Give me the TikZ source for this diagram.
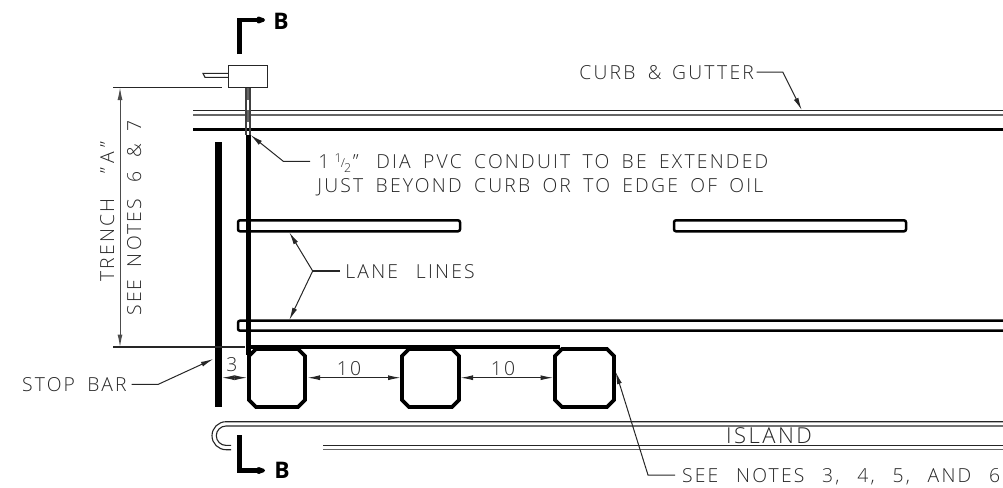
\documentclass[tikz,border=0pt]{standalone}
\usepackage{fontspec}
\setsansfont[LetterSpace=11.5,WordSpace=1.7]{Open Sans Light}
\newfontfamily\widefont[LetterSpace=11.5,WordSpace=2.45]{Open Sans Light}
\newfontfamily\cutfont{Open Sans}
\usetikzlibrary{arrows.meta}
\tikzset{
  thinline/.style={line width=0.022cm,draw=black!85},
  grayline/.style={line width=0.022cm,draw=black!60},
  laneline/.style={line width=0.05cm,rounded corners=0.04cm},
  loopline/.style={line width=0.075cm,line join=miter},
  leader/.style={line width=0.02cm,draw=black!85,-{Latex[length=0.25cm,width=0.1cm]}},
  dimline/.style={line width=0.02cm,draw=black!85,{Latex[length=0.25cm,width=0.1cm]}-{Latex[length=0.25cm,width=0.1cm]}},
  cadtext/.style={inner sep=0pt,anchor=base west,font=\sffamily\fontsize{11}{11}\selectfont,black!85},
  widetext/.style={cadtext,font=\widefont\fontsize{11}{11}\selectfont},
  cutline/.style={line width=0.09cm,-{Latex[length=0.36cm,width=0.17cm,round]}},
  cutlabel/.style={inner sep=0pt,anchor=base west,font=\cutfont\bfseries\fontsize{13}{13}\selectfont},
}
\begin{document}
\begin{tikzpicture}[x=0.02cm,y=-0.02cm]
  \useasboundingbox (0,0) rectangle (1003,487);

  % Drawing curb and gutter
  \draw [thinline] (193,110.3) -- (1003,110.3);%
  \draw [grayline] (193,115) -- (1003,115);%
  \draw [line width=0.055cm] (193,129.3) -- (1003,129.3);%

  % Drawing stop bar
  \draw [line width=0.13cm] (218.5,142) -- (218.5,406.7);%

  % Drawing lane lines
  \draw [laneline] (460,220.3) -- (238,220.3) -- (238,231.3) -- (460,231.3) -- cycle;%
  \draw [laneline] (674,220.3) rectangle (906,231.3);%
  \draw [laneline] (1010,320.7) -- (238,320.7) -- (238,330.7) -- (1010,330.7);%

  % Drawing conduit
  \draw [line width=0.035cm,draw=black!75] (246.3,88) -- (246.3,135);%
  \draw [line width=0.035cm,draw=black!75] (250.2,88) -- (250.2,135);%
  \draw [line width=0.03cm,draw=black!60] (248.2,88) -- (248.2,100);%
  \draw [line width=0.03cm,draw=black!60] (248.2,110) -- (248.2,122);%
  \draw [line width=0.1cm] (248.2,135) -- (248.2,355);%

  % Drawing wire along the loops
  \draw [line width=0.07cm] (248,346.9) -- (560,346.9);%

  % Drawing loops
  \foreach \xa/\xb in {249/305,402/459,555/614}{
    \draw [loopline] (\xa+7,349) -- (\xb-7,349) -- (\xb,356) -- (\xb,400)
      -- (\xb-7,407) -- (\xa+7,407) -- (\xa,400) -- (\xa,356) -- cycle;%
  }

  % Drawing island
  \draw [thinline] (1003,421.7) -- (226,421.7) arc (270:90:14) -- (231,449.7);%
  \draw [thinline] (1003,426) -- (226,426) arc (270:90:9.7) -- (231,445.4);%
  \draw [thinline] (323,445.4) -- (1003,445.4);%
  \draw [grayline] (323,449.7) -- (1003,449.7);%

  % Drawing controller box
  \draw [thinline] (228.5,65.5) rectangle (267.3,87.7);%
  \draw [thinline] (228.5,73.3) -- (203,73.3) -- (205,77.3) -- (228.5,77.3);%

  % Drawing trench dimension
  \draw [thinline] (113,87.5) -- (222,87.5);%
  \draw [thinline] (113,347) -- (245,347);%
  \coordinate (trenchtop) at (120,87.5);
  \coordinate (trenchbot) at (120,347);
  \draw [dimline,draw=black!70] (trenchtop) -- (trenchbot);%
  \node [cadtext,rotate=90] (trenchlabel) at (114,282) {TRENCH\ \ "\kern2.5pt A\kern2.5pt"};
  \node [cadtext,rotate=90] (seelabel) at (141,316) {SEE NOTES\kern2pt{} 6\kern1pt{} \& 7};

  % Marking section B
  \coordinate (cuttop) at (239.3,54);
  \coordinate (cuttopend) at (265,20);
  \draw [cutline] (cuttop) |- (cuttopend);%
  \node [cutlabel] (btop) at (273,29) {B};
  \coordinate (cutbot) at (239.3,435.3);
  \coordinate (cutbotend) at (265,470.5);
  \draw [cutline] (cutbot) |- (cutbotend);%
  \node [cutlabel] (bbot) at (274,478) {B};

  % Marking curb and gutter
  \node [cadtext] (curblabel) at (579,79) {CURB \&\kern-1pt{} GUTTER};
  \coordinate (curbbend) at (782.7,72);
  \coordinate (curbtip) at (801.7,110);
  \draw [leader] (756.7,72) -- (curbbend) -- (curbtip);%

  % Marking conduit note
  \node [cadtext] (conduitlabel) at (318,168) {1\kern3pt\raisebox{3.4pt}{\fontsize{7}{7}\selectfont 1}\kern-0.5pt\raisebox{0.5pt}{\fontsize{7}{7}\selectfont /}\kern-0.5pt\raisebox{-2.8pt}{\fontsize{7}{7}\selectfont 2}\kern1pt"\kern3pt\ DIA PVC CONDUIT TO BE EXTENDED};
  \node [cadtext] (conduitlabelb) at (317,192.7) {JUST BEYOND CURB OR TO EDGE OF OIL};
  \coordinate (conduitbend) at (283.3,161.3);
  \coordinate (conduittip) at (250.5,135);
  \draw [leader] (310,161.3) -- (conduitbend) -- (conduittip);%

  % Marking lane lines
  \node [widetext] (lanelabel) at (345,278) {LANE LINES};
  \coordinate (lanebend) at (312.7,271);
  \coordinate (lanetipa) at (289.3,232.3);
  \coordinate (lanetipb) at (289.3,320);
  \draw [thinline] (340,271) -- (lanebend);%
  \draw [leader] (lanebend) -- (lanetipa);%
  \draw [leader] (lanebend) -- (lanetipb);%

  % Marking stop bar
  \node [cadtext] (stoplabel) at (21.7,391.7) {STOP BAR};
  \coordinate (stopbend) at (158.3,384.3);
  \coordinate (stoptip) at (213.3,359);
  \draw [leader] (131.7,384.3) -- (stopbend) -- (stoptip);%

  % Marking loop dimensions
  \coordinate (threemid) at (235,377.7);
  \draw [leader] (threemid) -- (222,377.7);%
  \draw [leader] (threemid) -- (247,377.7);%
  \node [cadtext,anchor=base] (threelabel) at (232,371) {3};
  \draw [dimline] (307.5,377.7) -- (400.5,377.7);%
  \draw [dimline] (460.5,377.7) -- (553,377.7);%
  \node [cadtext,anchor=base] (tena) at (349,375) {10};
  \node [cadtext,anchor=base] (tenb) at (503,375) {10};

  % Marking island
  \node [cadtext,font=\sffamily\fontsize{12.5}{12.5}\selectfont] (islandlabel) at (725.7,443) {ISLAND};

  % Marking loop notes
  \node [widetext] (noteslabel) at (681.7,482.7) {SEE NOTES 3, 4, 5, AND 6};
  \coordinate (notesbend) at (648,475);
  \coordinate (notestip) at (615.7,371.7);
  \draw [leader] (675,475) -- (notesbend) -- (notestip);%
\end{tikzpicture}
\end{document}
